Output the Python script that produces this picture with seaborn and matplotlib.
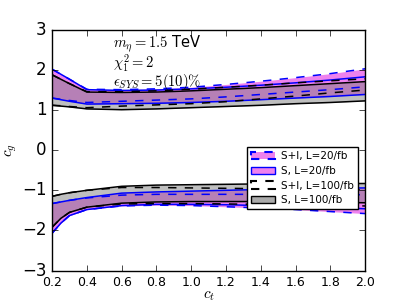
import matplotlib
matplotlib.use("Agg")
import matplotlib.pyplot as plt
from matplotlib.patches import Patch
import numpy as np
import pandas as pd
import seaborn as sns

ct = [0.2, 0.25, 0.3, 0.4, 0.6, 0.8, 1.0, 1.2, 1.4, 1.6, 1.8, 2.0]

# upper branch (c_g > 0)
up_S20_hi = [2.02, 1.895, 1.77, 1.51, 1.49, 1.50, 1.53, 1.57, 1.62, 1.68, 1.75, 1.83]
up_S20_lo = [1.30, 1.26, 1.22, 1.15, 1.16, 1.17, 1.19, 1.22, 1.26, 1.30, 1.34, 1.39]
up_SI20_hi = [2.02, 1.895, 1.77, 1.52, 1.51, 1.53, 1.57, 1.64, 1.72, 1.81, 1.91, 2.03]
up_SI20_lo = [1.30, 1.27, 1.24, 1.19, 1.22, 1.25, 1.28, 1.33, 1.39, 1.45, 1.51, 1.58]
up_S100_hi = [1.88, 1.77, 1.66, 1.45, 1.44, 1.45, 1.48, 1.52, 1.56, 1.61, 1.66, 1.71]
up_S100_lo = [1.12, 1.10, 1.08, 1.03, 1.01, 1.03, 1.06, 1.09, 1.12, 1.16, 1.19, 1.23]
up_SI100_hi = [1.88, 1.77, 1.66, 1.46, 1.46, 1.48, 1.52, 1.57, 1.62, 1.68, 1.73, 1.78]
up_SI100_lo = [1.12, 1.11, 1.09, 1.06, 1.10, 1.13, 1.16, 1.21, 1.28, 1.35, 1.43, 1.50]

# lower branch (c_g < 0)
lo_S100_hi = [-1.15, -1.10, -1.06, -1.00, -0.90, -0.87, -0.86, -0.85, -0.84, -0.84, -0.83, -0.83]
lo_S100_lo = [-1.92, -1.70, -1.55, -1.42, -1.32, -1.29, -1.28, -1.28, -1.28, -1.29, -1.30, -1.31]
lo_S20_hi = [-1.33, -1.29, -1.25, -1.18, -1.07, -1.04, -1.02, -1.00, -0.98, -0.97, -0.95, -0.94]
lo_S20_lo = [-2.07, -1.82, -1.63, -1.48, -1.38, -1.35, -1.35, -1.36, -1.38, -1.40, -1.43, -1.46]
lo_SI100_hi = [-1.15, -1.10, -1.06, -1.00, -0.93, -0.93, -0.94, -0.95, -0.96, -0.97, -0.98, -0.99]
lo_SI100_lo = [-1.92, -1.70, -1.55, -1.42, -1.34, -1.33, -1.33, -1.34, -1.35, -1.36, -1.37, -1.39]
lo_SI20_hi = [-1.33, -1.29, -1.25, -1.19, -1.12, -1.10, -1.10, -1.10, -1.10, -1.11, -1.11, -1.11]
lo_SI20_lo = [-2.07, -1.82, -1.63, -1.48, -1.39, -1.37, -1.38, -1.41, -1.44, -1.48, -1.53, -1.58]

legend_labels = ["S+I, L=20/fb", "S, L=20/fb", "S+I, L=100/fb", "S, L=100/fb"]

plt.style.use("classic")
plt.rcParams["figure.facecolor"] = "white"
plt.rcParams["savefig.facecolor"] = "white"

fig = plt.figure(figsize=(4.07, 3.05), dpi=100)
ax = fig.add_axes([0.128, 0.113, 0.769, 0.789])

PINK = "#ee82ee"
x = np.array(ct)

bands = [
    # (hi, lo, fill, alpha, edge color, linestyle)
    (up_SI20_hi, up_SI20_lo, PINK, 1.0, "blue", "--"),
    (up_S20_hi, up_S20_lo, PINK, 1.0, "blue", "-"),
    (lo_SI20_hi, lo_SI20_lo, PINK, 1.0, "blue", "--"),
    (lo_S20_hi, lo_S20_lo, PINK, 1.0, "blue", "-"),
    (up_S100_hi, up_S100_lo, "gray", 0.5, "black", "-"),
    (lo_S100_hi, lo_S100_lo, "gray", 0.5, "black", "-"),
    (up_SI100_hi, up_SI100_lo, None, 0, "black", "--"),
    (lo_SI100_hi, lo_SI100_lo, None, 0, "black", "--"),
]

for hi, lo, fc, al, ec, ls in bands:
    if fc is not None:
        ax.fill_between(x, lo, hi, facecolor=fc, alpha=al, linewidth=0)

for hi, lo, fc, al, ec, ls in bands:
    for arr in (hi, lo):
        df = pd.DataFrame({"ct": ct, "cg": arr})
        sns.lineplot(data=df, x="ct", y="cg", ax=ax, color=ec, linestyle=ls,
                     linewidth=1.1, legend=False)

ax.set_xlim(0.2, 2.0)
ax.set_ylim(-3, 3)
ax.set_xticks(np.arange(0.2, 2.01, 0.2))
ax.set_yticks(np.arange(-3, 3.1, 1))
ax.tick_params(axis="x", labelsize=9)
ax.tick_params(axis="y", labelsize=12)
ax.set_xlabel("$c_t$", fontsize=11)
ax.set_ylabel("$c_g$", fontsize=11)
ax.xaxis.set_label_coords(0.5, -0.072)
ax.yaxis.set_label_coords(-0.105, 0.5)

ax.text(0.55, 2.67, r"$m_{\eta}=1.5$ TeV", fontsize=10.5, va="center")
ax.text(0.55, 2.16, r"$\chi^2_1=2$", fontsize=10.5, va="center")
ax.text(0.55, 1.69, r"$\epsilon_{SYS}=5(10)\%$", fontsize=10.5, va="center")

handles = [
    Patch(facecolor=PINK, edgecolor="blue", linestyle="--", linewidth=1.5),
    Patch(facecolor=PINK, edgecolor="blue", linestyle="-", linewidth=1.0),
    Patch(facecolor="white", edgecolor="black", linestyle="--", linewidth=1.5),
    Patch(facecolor="#aaaaaa", edgecolor="black", linestyle="-", linewidth=1.0),
]
ax.legend(handles, legend_labels, loc="upper right", bbox_to_anchor=(0.995, 0.535),
          fontsize=7.5, frameon=True, fancybox=False, handlelength=2.3,
          borderpad=0.4, labelspacing=0.45, handletextpad=0.6)

fig.savefig("out.png", dpi=100)
